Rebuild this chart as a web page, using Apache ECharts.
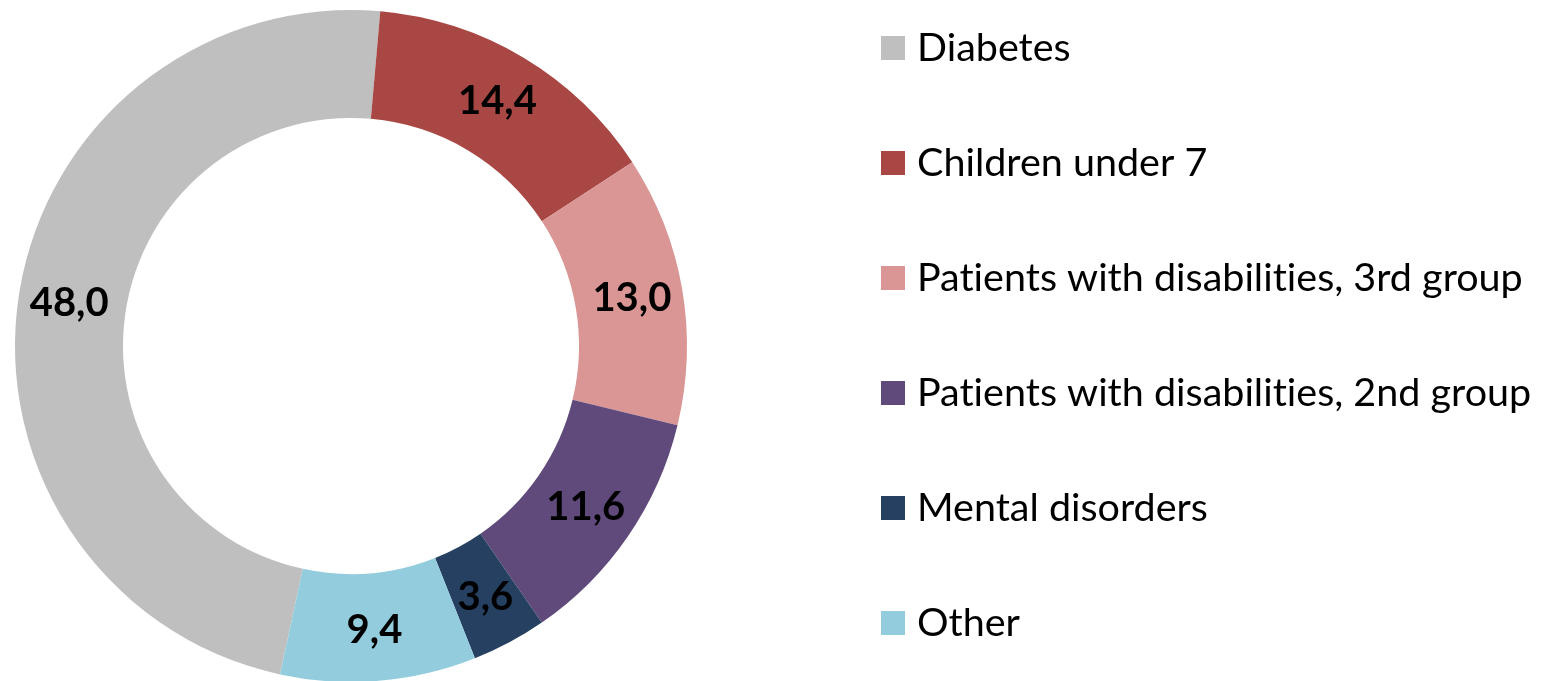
<!DOCTYPE html>
<html>
<head>
<meta charset="utf-8">
<script src="https://cdn.jsdelivr.net/npm/echarts@6/dist/echarts.min.js"></script>
<style>
  html, body { margin: 0; padding: 0; background: #fff; }
  #chart { width: 1545px; height: 681px; }
</style>
</head>
<body>
<div id="chart"></div>
<script>
// chart data
const categories = [
  'Diabetes',
  'Children under 7',
  'Patients with disabilities, 3rd group',
  'Patients with disabilities, 2nd group',
  'Mental disorders',
  'Other'
]
const values = [48.0, 14.4, 13.0, 11.6, 3.6, 9.4]
const colors = ['#BFBFBF', '#A94744', '#D99694', '#604A7B', '#254061', '#93CDDD']

const chart = echarts.init(document.getElementById('chart'))

const option = {
  animation: false,
  color: colors,
  legend: {
    orient: 'vertical',
    left: 876,
    top: 23,
    itemWidth: 24,
    itemHeight: 24,
    itemGap: 75,
    icon: 'rect',
    data: categories,
    // break the "ti" ligature of Lato so text looks like the original
    formatter: (name) => name.replace(/ti/g, 't\u200Ci'),
    textStyle: {
      fontFamily: 'Lato',
      fontSize: 39.5,
      lineHeight: 40,
      color: '#000',
      padding: [0, 0, 0, 7]
    }
  },
  series: [
    {
      type: 'pie',
      center: [351, 346],
      radius: [228, 336],
      startAngle: 257.8,
      clockwise: true,
      avoidLabelOverlap: false,
      label: {
        show: true,
        position: 'inside',
        fontFamily: 'Lato',
        fontWeight: 'bold',
        fontSize: 40,
        color: '#000',
        padding: [8, 0, 0, 0],
        formatter: (p) => p.value.toFixed(1).replace('.', ',')
      },
      labelLine: { show: false },
      emphasis: { disabled: true },
      data: categories.map((name, i) => ({ name: name, value: values[i] }))
    }
  ]
}

chart.setOption(option)
</script>
</body>
</html>
